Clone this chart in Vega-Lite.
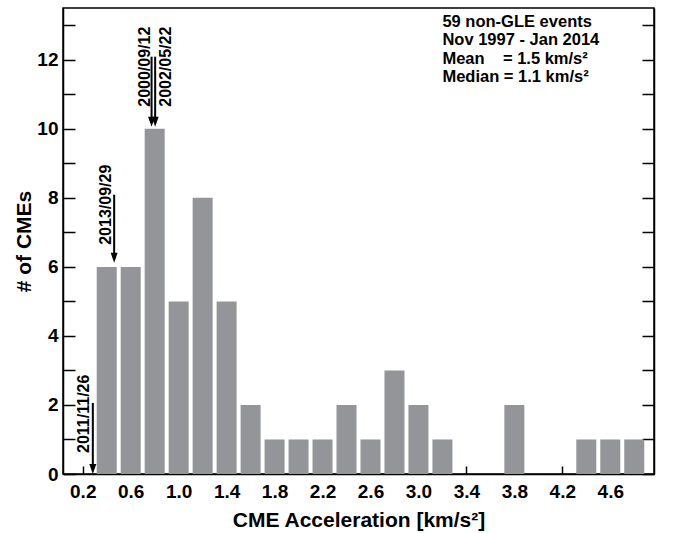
{
  "$schema": "https://vega.github.io/schema/vega-lite/v6.json",
  "width": 591,
  "height": 466,
  "autosize": {"type": "none"},
  "padding": {"left": 63, "top": 8, "right": 19, "bottom": 59},
  "background": "white",
  "config": {
    "view": {"stroke": "black", "strokeWidth": 1.5},
    "font": "Liberation Sans",
    "axis": {
      "grid": false,
      "domainColor": "black",
      "domainWidth": 1.5,
      "tickColor": "black",
      "tickWidth": 1.5,
      "labelFont": "Liberation Sans",
      "labelFontWeight": "bold",
      "labelFontSize": 19,
      "labelColor": "black",
      "titleFont": "Liberation Sans",
      "titleFontWeight": "bold",
      "titleFontSize": 21,
      "titleColor": "black"
    }
  },
  "datasets": {
    "bins": [
      {"x": 0.4, "y": 6}, {"x": 0.6, "y": 6}, {"x": 0.8, "y": 10}, {"x": 1.0, "y": 5},
      {"x": 1.2, "y": 8}, {"x": 1.4, "y": 5}, {"x": 1.6, "y": 2}, {"x": 1.8, "y": 1},
      {"x": 2.0, "y": 1}, {"x": 2.2, "y": 1}, {"x": 2.4, "y": 2}, {"x": 2.6, "y": 1},
      {"x": 2.8, "y": 3}, {"x": 3.0, "y": 2}, {"x": 3.2, "y": 1}, {"x": 3.8, "y": 2},
      {"x": 4.4, "y": 1}, {"x": 4.6, "y": 1}, {"x": 4.8, "y": 1}
    ],
    "arrows": [
      {"x": 0.284, "y": 2.06, "tip": 0},
      {"x": 0.462, "y": 8.09, "tip": 6.12},
      {"x": 0.774, "y": 12.09, "tip": 10.06},
      {"x": 0.804, "y": 12.09, "tip": 10.06}
    ],
    "dates": [
      {"x": 0.249, "y": 0.61, "label": "2011/11/26"},
      {"x": 0.438, "y": 6.64, "label": "2013/09/29"},
      {"x": 0.762, "y": 10.64, "label": "2000/09/12"},
      {"x": 0.938, "y": 10.64, "label": "2002/05/22"}
    ],
    "info": [
      {"x": 3.2, "y": 12.96, "label": ["59 non-GLE events", "Nov 1997 - Jan 2014", "Mean\u00a0\u00a0\u00a0\u00a0= 1.5 km/s²", "Median = 1.1 km/s²"]}
    ]
  },
  "layer": [
    {
      "data": {"name": "bins"},
      "mark": {"type": "bar", "size": 20, "color": "#939598"},
      "encoding": {
        "x": {
          "field": "x",
          "type": "quantitative",
          "scale": {"domain": [0.077, 4.923], "nice": false, "zero": false},
          "axis": {
            "title": "CME Acceleration [km/s²]",
            "values": [0.2, 0.4, 0.6, 0.8, 1.0, 1.2, 1.4, 1.6, 1.8, 2.0, 2.2, 2.4, 2.6, 2.8, 3.0, 3.2, 3.4, 3.6, 3.8, 4.0, 4.2, 4.4, 4.6, 4.8],
            "labelExpr": "(round(datum.value*10) - 2) % 4 == 0 ? format(datum.value, '.1f') : ''",
            "tickSize": -8,
            "labelPadding": 16,
            "labelFlush": false,
            "labelOverlap": false,
            "titlePadding": 8
          }
        },
        "y": {
          "field": "y",
          "type": "quantitative",
          "scale": {"domain": [0, 13.5], "nice": false},
          "axis": {
            "title": "# of CMEs",
            "values": [0, 1, 2, 3, 4, 5, 6, 7, 8, 9, 10, 11, 12, 13],
            "labelExpr": "datum.value % 2 == 0 ? datum.label : ''",
            "tickSize": -12,
            "labelPadding": 17,
            "labelOverlap": false,
            "titlePadding": 2,
            "encode": {"ticks": {"update": {"x2": {"signal": "datum.value % 2 == 0 ? 12 : 6"}}}}
          }
        }
      }
    },
    {
      "data": {"name": "bins"},
      "mark": {"type": "point", "opacity": 0},
      "encoding": {
        "x": {"field": "x", "type": "quantitative"},
        "y": {
          "field": "y",
          "type": "quantitative",
          "axis": {
            "orient": "right",
            "title": null,
            "labels": false,
            "values": [0, 1, 2, 3, 4, 5, 6, 7, 8, 9, 10, 11, 12, 13],
            "tickSize": -12,
            "encode": {"ticks": {"update": {"x2": {"signal": "datum.value % 2 == 0 ? -12 : -6"}}}}
          }
        }
      }
    },
    {
      "data": {"name": "arrows"},
      "mark": {"type": "rule", "color": "black", "strokeWidth": 2, "y2Offset": -5},
      "encoding": {
        "x": {"field": "x", "type": "quantitative"},
        "y": {"field": "y", "type": "quantitative", "axis": null},
        "y2": {"field": "tip"}
      }
    },
    {
      "data": {"name": "arrows"},
      "mark": {"type": "point", "shape": "M-0.7,-1L0.7,-1L0,1Z", "size": 100, "filled": true, "color": "black", "opacity": 1, "yOffset": -5},
      "encoding": {
        "x": {"field": "x", "type": "quantitative"},
        "y": {"field": "tip", "type": "quantitative", "axis": null}
      }
    },
    {
      "data": {"name": "dates"},
      "mark": {"type": "text", "angle": 270, "align": "left", "baseline": "alphabetic", "font": "Liberation Sans", "fontWeight": "bold", "fontSize": 16, "color": "black"},
      "encoding": {
        "x": {"field": "x", "type": "quantitative"},
        "y": {"field": "y", "type": "quantitative", "axis": null},
        "text": {"field": "label"}
      }
    },
    {
      "data": {"name": "info"},
      "mark": {"type": "text", "align": "left", "baseline": "alphabetic", "font": "Liberation Sans", "fontWeight": "bold", "fontSize": 16.5, "lineHeight": 18.5, "color": "black"},
      "encoding": {
        "x": {"field": "x", "type": "quantitative"},
        "y": {"field": "y", "type": "quantitative", "axis": null},
        "text": {"field": "label"}
      }
    }
  ],
  "resolve": {"axis": {"y": "independent"}}
}
